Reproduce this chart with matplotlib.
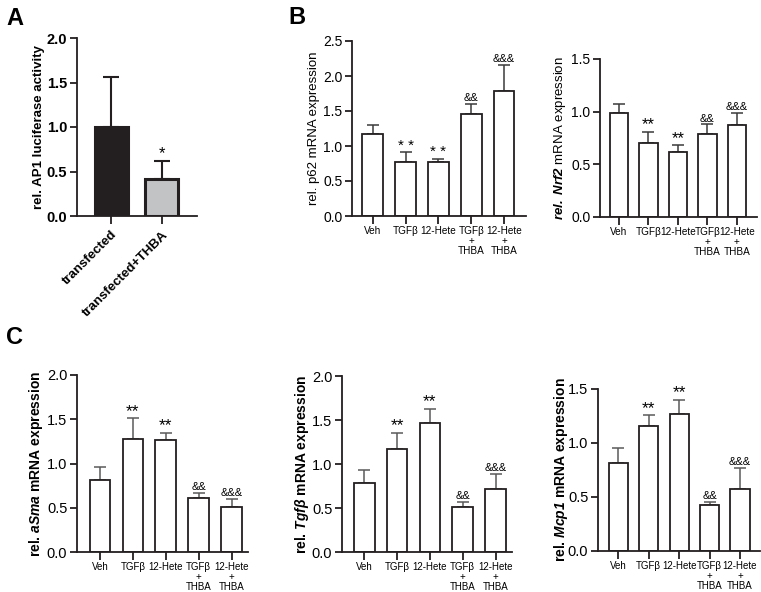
import matplotlib
matplotlib.use("Agg")
import matplotlib.pyplot as plt
import matplotlib.transforms as mtransforms
import numpy as np

plt.rcParams['font.family'] = ['Liberation Sans', 'DejaVu Sans']
plt.rcParams['mathtext.fontset'] = 'custom'
plt.rcParams['mathtext.rm'] = 'Liberation Sans'
plt.rcParams['mathtext.it'] = 'Liberation Sans:italic'
plt.rcParams['mathtext.bf'] = 'Liberation Sans:bold'
plt.rcParams['mathtext.bfit'] = 'Liberation Sans:italic:bold'

# panel A
ap1_groups = ["transfected", "transfected+THBA"]
ap1_mean = [1.0, 0.42]
ap1_err = [0.56, 0.20]
ap1_marks = ["", "*"]
ap1_colors = ["#231f20", "#c2c3c5"]

# panels B and C share the groups
groups = ["Veh", "TGFβ", "12-Hete", "TGFβ\n+\nTHBA", "12-Hete\n+\nTHBA"]

p62_mean = [1.17, 0.77, 0.77, 1.46, 1.78]
p62_err = [0.13, 0.14, 0.05, 0.14, 0.38]
p62_marks = ["", "* *", "* *", "&&", "&&&"]

nrf2_mean = [0.985, 0.70, 0.62, 0.79, 0.87]
nrf2_err = [0.085, 0.11, 0.06, 0.09, 0.12]
nrf2_marks = ["", "**", "**", "&&", "&&&"]

asma_mean = [0.81, 1.28, 1.26, 0.61, 0.51]
asma_err = [0.145, 0.23, 0.09, 0.06, 0.09]

tgfb_mean = [0.785, 1.17, 1.47, 0.51, 0.72]
tgfb_err = [0.145, 0.185, 0.16, 0.06, 0.17]

mcp1_mean = [0.815, 1.153, 1.266, 0.43, 0.578]
mcp1_err = [0.138, 0.104, 0.134, 0.028, 0.19]

c_marks = ["", "**", "**", "&&", "&&&"]

W, H = 761, 592


def box(left, top, right, bottom):
    return [left / W, 1 - bottom / H, (right - left) / W, (bottom - top) / H]


def place_ylabel(ax, center_px, fontsize):
    # ylabel anchor is the right edge (descent line) of the rotated text
    tr = mtransforms.blended_transform_factory(ax.figure.transFigure, ax.transAxes)
    ax.yaxis.set_label_coords((center_px + 0.55 * fontsize * 1.39) / W, 0.5,
                              transform=tr)


def style_axes(ax, ymax, step, tick_fs, bold=False):
    for s in ["top", "right"]:
        ax.spines[s].set_visible(False)
    for s in ["left", "bottom"]:
        ax.spines[s].set_linewidth(1.3)
        ax.spines[s].set_color("#231f20")
    ax.set_ylim(0, ymax)
    yt = np.arange(0, ymax + 0.001, step)
    ax.set_yticks(yt, [f"{v:.1f}" for v in yt], fontsize=tick_fs,
                  fontweight="bold" if bold else "normal")
    ax.tick_params(axis="both", direction="out", width=1.3, color="#231f20")
    ax.tick_params(axis="y", length=5, pad=2)
    ax.tick_params(axis="x", length=6, pad=1.5)


def add_marks(ax, x, means, errs, marks, star_fs, amp_fs):
    for xi, m, e, t in zip(x, means, errs, marks):
        if not t:
            continue
        if "*" in t:
            ax.annotate(t, (xi, m + e), xytext=(0, -0.5), textcoords="offset points",
                        ha="center", va="bottom", fontsize=star_fs)
        else:
            ax.annotate(t, (xi, m + e), xytext=(0, 0.5), textcoords="offset points",
                        ha="center", va="bottom", fontsize=amp_fs)


def bar_panel(ax, means, errs, marks, ymax, step, xlim, ylabel, ylabel_kw,
              label_x, tick_fs, xt_fs, err_color, star_fs, amp_fs):
    x = np.arange(len(means))
    ax.bar(x, means, width=0.63, color="white", edgecolor="#231f20",
           linewidth=1.3, zorder=2)
    ax.errorbar(x, means, yerr=[np.zeros(len(errs)), errs], fmt="none",
                ecolor=err_color, elinewidth=1.1, capsize=4.5, capthick=1.1,
                zorder=1)
    add_marks(ax, x, means, errs, marks, star_fs, amp_fs)
    style_axes(ax, ymax, step, tick_fs)
    ax.set_xlim(*xlim)
    ax.set_xticks(x, groups, fontsize=xt_fs, linespacing=1.0, va="top")
    ax.set_ylabel(ylabel, **ylabel_kw)
    place_ylabel(ax, label_x, ylabel_kw["fontsize"])


fig = plt.figure(figsize=(W / 100, H / 100), dpi=100)

# A
axA = fig.add_axes(box(77, 38, 197, 216))
xa = np.arange(len(ap1_mean))
axA.bar(xa, ap1_mean, width=0.65, color=ap1_colors, edgecolor="#231f20",
        linewidth=2.2, zorder=2)
axA.errorbar(xa, ap1_mean, yerr=[np.zeros(2), ap1_err], fmt="none",
             ecolor="#231f20", elinewidth=1.5, capsize=6, capthick=1.5, zorder=1)
add_marks(axA, xa, ap1_mean, ap1_err, ap1_marks, 12, 8)
style_axes(axA, 2.0, 0.5, 10.5, bold=True)
axA.set_xlim(-0.67, 1.69)
axA.set_xticks(xa, ap1_groups, fontsize=9.5, fontweight="bold", rotation=45,
               ha="right", rotation_mode="anchor")
axA.tick_params(axis="x", pad=3)
axA.set_ylabel("rel. AP1 luciferase activity", fontsize=9.5, fontweight="bold")
place_ylabel(axA, 38, 9.5)

# B
axB1 = fig.add_axes(box(352, 41, 526, 216))
bar_panel(axB1, p62_mean, p62_err, p62_marks, 2.5, 0.5, (-0.63, 4.67),
          "rel. p62 mRNA expression", dict(fontsize=9.5), 313,
          10, 7.2, "#3a3a3a", 11, 8)

axB2 = fig.add_axes(box(600, 59, 757, 217))
bar_panel(axB2, nrf2_mean, nrf2_err, nrf2_marks, 1.5, 0.5, (-0.64, 4.68),
          r"$\mathbfit{rel.\ Nrf2}$ mRNA expression", dict(fontsize=9.5), 561,
          10, 7.2, "#3a3a3a", 12, 8)

# C
axC1 = fig.add_axes(box(77, 375, 248, 552))
bar_panel(axC1, asma_mean, asma_err, c_marks, 2.0, 0.5, (-0.7, 4.5),
          r"rel. $\mathbfit{aSma}$ mRNA expression",
          dict(fontsize=10, fontweight="bold"), 37,
          10.5, 7, "#5a5a5a", 12.5, 8)

axC2 = fig.add_axes(box(342, 376, 512, 552))
bar_panel(axC2, tgfb_mean, tgfb_err, c_marks, 2.0, 0.5, (-0.68, 4.5),
          r"rel. $\mathbfit{Tgf\beta}$ mRNA expression",
          dict(fontsize=10, fontweight="bold"), 303,
          10.5, 7, "#5a5a5a", 12.5, 8)

axC3 = fig.add_axes(box(598, 389, 760, 551))
bar_panel(axC3, mcp1_mean, mcp1_err, c_marks, 1.5, 0.5, (-0.67, 4.66),
          r"rel. $\mathbfit{Mcp1}$ mRNA expression",
          dict(fontsize=10, fontweight="bold"), 562,
          10.5, 7, "#5a5a5a", 12.5, 8)

# panel letters
for letter, px, py in [("A", 6, 25), ("B", 288, 24), ("C", 6, 344)]:
    fig.text(px / W, 1 - py / H, letter, fontsize=17, fontweight="bold",
             va="baseline", ha="left")

fig.savefig("out.png", dpi=100)
